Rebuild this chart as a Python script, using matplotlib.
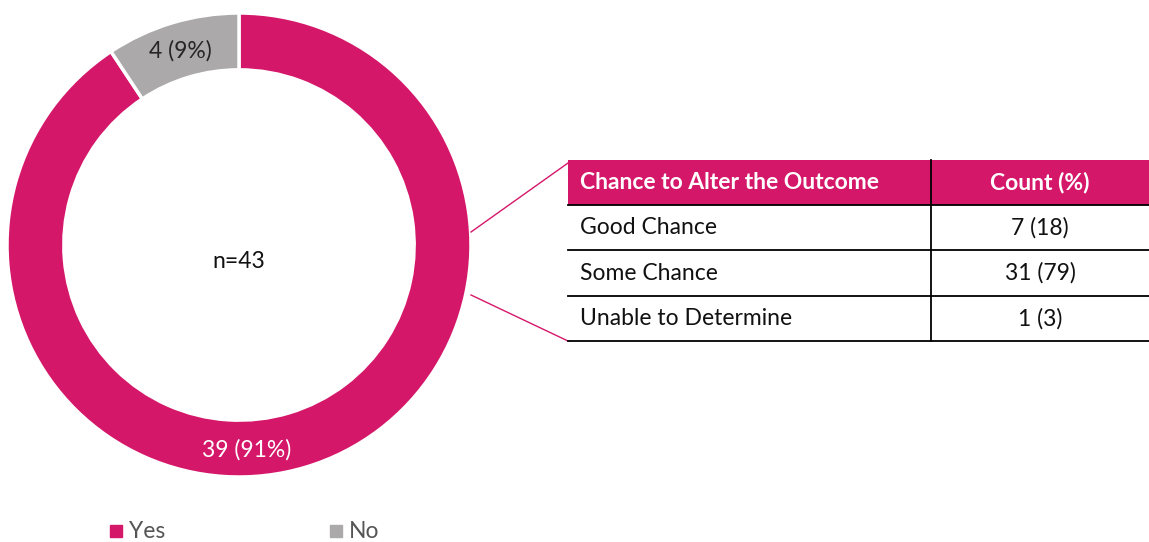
import matplotlib
matplotlib.use("Agg")
import matplotlib.pyplot as plt
import numpy as np
from matplotlib.patches import Rectangle
from matplotlib.lines import Line2D

plt.rcParams['font.family'] = ['Lato', 'DejaVu Sans']

# ---- data ----
categories = ["Yes", "No"]
counts = [39, 4]
percents = [91, 9]
total_n = 43
table_header = ["Chance to Alter the Outcome", "Count (%)"]
table_rows = ["Good Chance", "Some Chance", "Unable to Determine"]
table_counts = [7, 31, 1]
table_pcts = [18, 79, 3]

PINK = "#D5176A"
GRAY = "#ABA9A9"
colors = [PINK, GRAY]
FS = 16.5

W, H = 1149, 542
fig = plt.figure(figsize=(W / 100, H / 100), dpi=100)

# pie axes placed by pixel box
cx, cy, R = 239, 245, 232
ax = fig.add_axes([(cx - R) / W, (H - cy - R) / H, 2 * R / W, 2 * R / H])
wedges, _ = ax.pie(counts, colors=colors, startangle=90, counterclock=False,
                   radius=1.0, wedgeprops=dict(width=0.245, edgecolor="white", linewidth=2.5))
ax.set_xlim(-1, 1)
ax.set_ylim(-1, 1)
ax.set_aspect("equal")
ax.axis("off")

# labels
theta_no = np.deg2rad(90 + 360 * counts[1] / sum(counts) / 2)
ax.text(0.875 * np.cos(theta_no), 0.875 * np.sin(theta_no),
        f"{counts[1]} ({percents[1]}%)", ha="center", va="center", fontsize=FS, color="#262626")
theta_yes = np.deg2rad(-88)
ax.text(0.885 * np.cos(theta_yes), 0.885 * np.sin(theta_yes),
        f"{counts[0]} ({percents[0]}%)", ha="center", va="center", fontsize=FS, color="white")
ax.text(0, -0.07, f"n={total_n}", ha="center", va="center", fontsize=FS, color="#111111")

# overlay axes in pixel coords
ov = fig.add_axes([0, 0, 1, 1], facecolor="none")
ov.set_xlim(0, W)
ov.set_ylim(H, 0)
ov.axis("off")

# connector lines
ov.add_line(Line2D([471, 568], [232, 163], color=PINK, lw=1.0))
ov.add_line(Line2D([471, 568], [295, 341], color=PINK, lw=1.0))

# table
x0, x1, xdiv = 568, 1149, 931
row_edges = [160, 205, 250, 296, 341]
ov.add_patch(Rectangle((x0, row_edges[0]), x1 - x0, row_edges[1] - row_edges[0],
                       facecolor=PINK, edgecolor="none"))
ov.text(x0 + 12, (row_edges[0] + row_edges[1]) / 2, table_header[0], ha="left", va="center",
        fontsize=FS, fontweight="bold", color="white")
ov.text((xdiv + x1) / 2, (row_edges[0] + row_edges[1]) / 2, table_header[1], ha="center",
        va="center", fontsize=FS, fontweight="bold", color="white")
for i, (lab, c, p) in enumerate(zip(table_rows, table_counts, table_pcts)):
    yc = (row_edges[i + 1] + row_edges[i + 2]) / 2
    ov.text(x0 + 12, yc, lab, ha="left", va="center", fontsize=FS, color="#111111")
    ov.text((xdiv + x1) / 2, yc, f"{c} ({p})", ha="center", va="center", fontsize=FS, color="#111111")
for y in row_edges[1:]:
    ov.add_line(Line2D([x0, x1], [y, y], color="black", lw=1.3))
ov.add_line(Line2D([xdiv, xdiv], [row_edges[0], row_edges[-1]], color="black", lw=1.3))

# legend (manual)
legend_x = [116, 336]
for xm, lab, col in zip(legend_x, categories, colors):
    ov.plot([xm], [531], marker="s", markersize=8, color=col, linestyle="none")
    ov.text(xm + 13, 531, lab, ha="left", va="center", fontsize=FS, color="#555555")

fig.savefig("out.png", dpi=100)
